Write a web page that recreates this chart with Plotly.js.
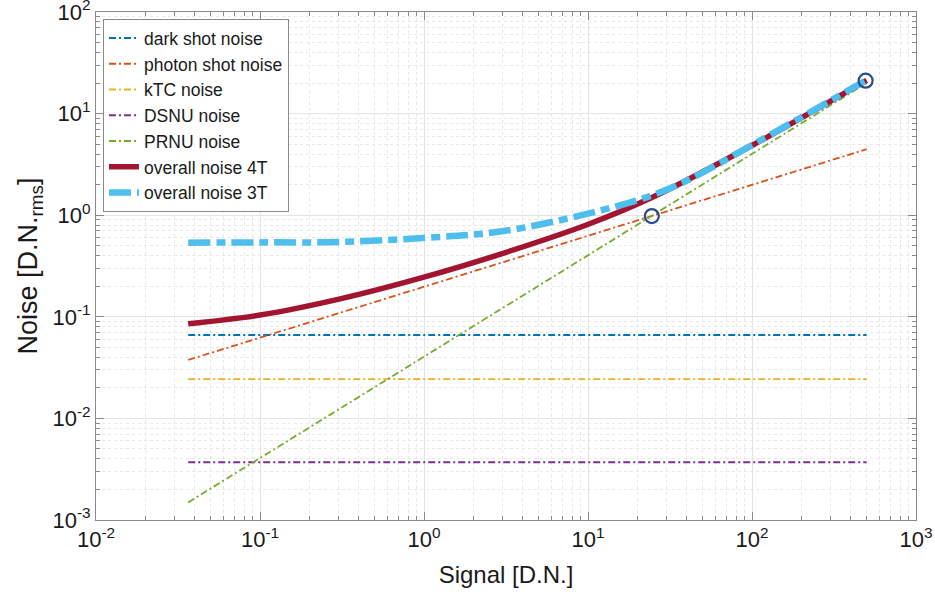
<!DOCTYPE html>
<html>
<head>
<meta charset="utf-8">
<script src="https://cdn.plot.ly/plotly-3.0.1.min.js"></script>
<style>html,body{margin:0;padding:0;background:#fff;}#chart{width:935px;height:594px;}</style>
</head>
<body>
<div id="chart"></div>
<script>
// ---- data ----
const xFlat = [0.0365, 500];
const darkShot = [0.0662, 0.0662];
const kTC = [0.0244, 0.0244];
const dsnu = [0.0037, 0.0037];
const photonShot = [0.0376, 4.46];
const prnu = [0.00149, 20.0];

const x4T = [0.0365, 0.1, 0.308, 0.986, 2.9, 9.86, 24.9, 100, 500];
const y4T = [0.0855, 0.104, 0.150, 0.244, 0.412, 0.805, 1.51, 4.85, 21.2];

const x3T = [0.0365, 0.1, 0.308, 0.986, 2.9, 9.86, 24.9, 41.9, 100, 500];
const y3T = [0.536, 0.54, 0.545, 0.597, 0.69, 1.03, 1.58, 2.27, 4.91, 21.4];

const markX = [24.5, 493];
const markY = [0.98, 21.1];

const xTickVals = [0.01, 0.1, 1, 10, 100, 1000];
const xTickText = ['10<sup>-2</sup>', '10<sup>-1</sup>', '10<sup>0</sup>', '10<sup>1</sup>', '10<sup>2</sup>', '10<sup>3</sup>'];
const yTickVals = [0.001, 0.01, 0.1, 1, 10, 100];
const yTickText = ['10<sup>-3</sup>', '10<sup>-2</sup>', '10<sup>-1</sup>', '10<sup>0</sup>', '10<sup>1</sup>', '10<sup>2</sup>'];

const names = ['dark shot noise', 'photon shot noise', 'kTC noise', 'DSNU noise', 'PRNU noise', 'overall noise 4T', 'overall noise 3T'];

const FONT = 'Liberation Sans, Arial, sans-serif';
const thinDash = '7px,3px,2px,3px';
function thin(x, y, name, color) {
  return {x: x, y: y, name: name, type: 'scatter', mode: 'lines',
    line: {color: color, width: 1.8, dash: thinDash}};
}

const traces = [
  thin(xFlat, darkShot, names[0], '#0072BD'),
  thin(xFlat, photonShot, names[1], '#D95319'),
  thin(xFlat, kTC, names[2], '#EDB120'),
  thin(xFlat, dsnu, names[3], '#7E2F8E'),
  thin(xFlat, prnu, names[4], '#77AC30'),
  {x: x4T, y: y4T, name: names[5], type: 'scatter', mode: 'lines', line: {color: '#A2142F', width: 5.5, shape: 'spline', smoothing: 1}},
  {x: x3T, y: y3T, name: names[6], type: 'scatter', mode: 'lines', line: {color: '#4DBEEE', width: 6.5, dash: '22px,6px,9px,6px', shape: 'spline', smoothing: 1}},
  {x: markX, y: markY, type: 'scatter', mode: 'markers', showlegend: false, hoverinfo: 'skip',
    marker: {symbol: 'circle-open', size: 14, color: '#2B4C8C', line: {width: 2.2, color: '#2B4C8C'}}}
];

const axisCommon = {
  type: 'log',
  tickmode: 'array',
  ticklabeloverflow: 'allow',
  showline: true, linecolor: '#8a8a8a', linewidth: 1, mirror: 'allticks',
  ticks: 'inside', ticklen: 8, tickcolor: '#8a8a8a', tickwidth: 1,
  showgrid: true, gridcolor: '#e4e4e4', gridwidth: 1,
  zeroline: false,
  tickfont: {family: FONT, size: 22, color: '#1a1a1a'},
  minor: {dtick: 'D1', ticks: 'inside', ticklen: 4, tickcolor: '#8a8a8a', showgrid: true, gridcolor: '#e8e8e8', griddash: 'dot', gridwidth: 1}
};

const layout = {
  width: 935, height: 594,
  margin: {l: 96, r: 19, t: 12, b: 74},
  paper_bgcolor: '#ffffff', plot_bgcolor: '#ffffff',
  font: {family: FONT, color: '#1a1a1a'},
  showlegend: true,
  xaxis: Object.assign({}, axisCommon, {
    range: [-2, 3], tickvals: xTickVals, ticktext: xTickText,
    title: {text: 'Signal [D.N.]', font: {size: 24, family: FONT, color: '#1a1a1a'}, standoff: 14}
  }),
  yaxis: Object.assign({}, axisCommon, {
    range: [-3, 2], tickvals: yTickVals, ticktext: yTickText,
    title: {text: 'Noise [D.N.<sub>rms</sub>]', font: {size: 27, family: FONT, color: '#1a1a1a'}, standoff: 6}
  }),
  legend: {
    x: 0.0085, y: 0.986, xanchor: 'left', yanchor: 'top',
    bgcolor: '#ffffff', bordercolor: '#8a8a8a', borderwidth: 1,
    font: {size: 17.5, family: FONT, color: '#1a1a1a'},
    tracegroupgap: 0, itemwidth: 30
  }
};

Plotly.newPlot('chart', traces, layout, {displayModeBar: false, staticPlot: true});
</script>
</body>
</html>
